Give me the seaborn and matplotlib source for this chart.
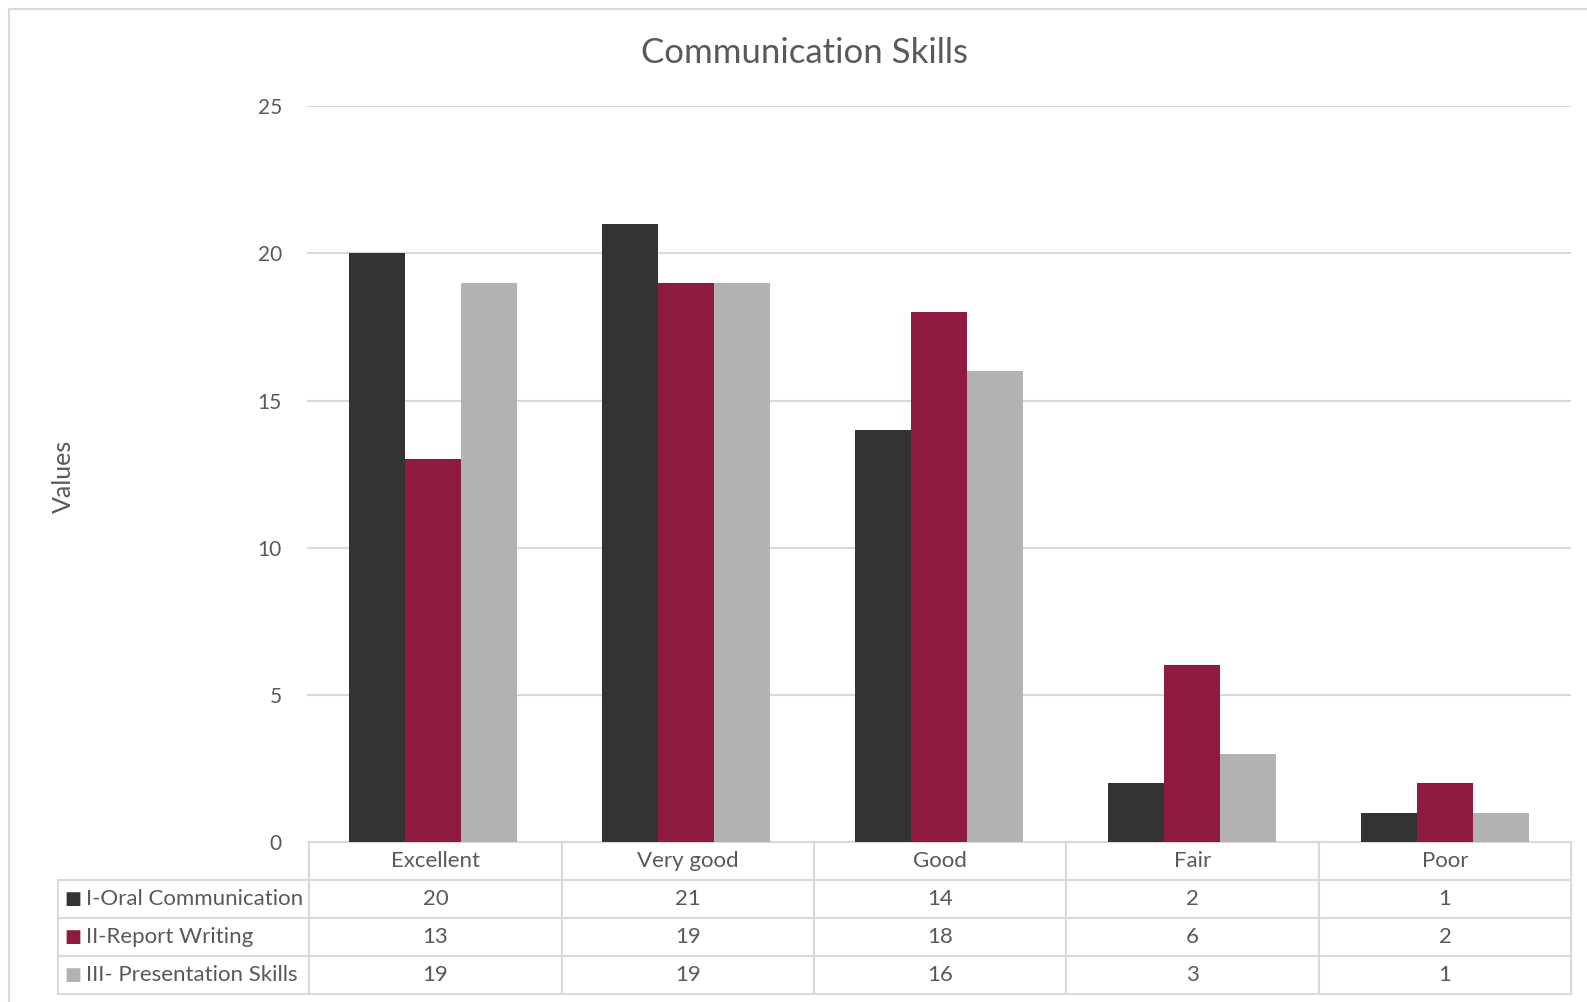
import pandas as pd
import seaborn as sns
import matplotlib.pyplot as plt
from matplotlib.lines import Line2D

# data
ratings = ['Excellent', 'Very good', 'Good', 'Fair', 'Poor']
skills = ['I-Oral Communication', 'II-Report Writing', 'III- Presentation Skills']
oral = [20, 21, 14, 2, 1]
report = [13, 19, 18, 6, 2]
presentation = [19, 19, 16, 3, 1]
colors = ['#333333', '#8E1A3E', '#B2B2B2']

values = [oral, report, presentation]
rows = []
for skill, vals in zip(skills, values):
    for r, v in zip(ratings, vals):
        rows.append({'Rating': r, 'Count': v, 'Skill': skill})
df = pd.DataFrame(rows)

sns.set_style('white')
plt.rcParams['font.family'] = ['Lato', 'DejaVu Sans']
txt = '#595959'
grid = '#D9D9D9'

fig = plt.figure(figsize=(15.87, 10.02), dpi=100)
ax = fig.add_axes([0.1934, 0.1597, 0.7966, 0.7343])

sns.barplot(data=df, x='Rating', y='Count', hue='Skill', order=ratings,
            hue_order=skills, palette=colors, width=0.664, gap=0,
            saturation=1, legend=False, linewidth=0, ax=ax)

ax.set_ylim(0, 25)
ax.set_yticks([0, 5, 10, 15, 20, 25])
ax.yaxis.grid(True, color=grid, linewidth=1.5)
ax.set_axisbelow(True)
for s in ax.spines.values():
    s.set_visible(False)
ax.tick_params(axis='x', length=0, labelbottom=False)
ax.tick_params(axis='y', length=0, labelsize=15, labelcolor=txt, pad=18)
ax.set_xlabel('')
ax.set_ylabel('')

fig.text(0.507, 0.947, 'Communication Skills', ha='center', va='center',
         fontsize=25, color=txt)
fig.text(0.0397, 0.525, 'Values', ha='center', va='center', rotation=90,
         fontsize=18, color=txt)

# data table below the plot
cell_text = [[''] + ratings]
for skill, vals in zip(skills, values):
    cell_text.append(['    ' + skill] + [str(v) for v in vals])

tb_left, tb_h = -0.197, 0.2065
tb = ax.table(cellText=cell_text, colWidths=[249] + [250] * 5,
              bbox=[tb_left, -tb_h, 1 - tb_left, tb_h], cellLoc='center')
tb.auto_set_font_size(False)
for (r, c), cell in tb.get_celld().items():
    cell.set_edgecolor(grid)
    cell.set_linewidth(1.5)
    cell.get_text().set_color(txt)
    cell.get_text().set_fontsize(16)
    if c == 0:
        cell.get_text().set_ha('left')
        cell.PAD = 0.02
    if r == 0 and c == 0:
        cell.set_edgecolor('white')
        cell.visible_edges = ''

row_h = tb_h / 4
for i, col in enumerate(colors):
    ax.text(-0.1855, -row_h * (i + 1.5), '\u25A0', transform=ax.transAxes,
            ha='center', va='center', fontsize=13, color=col,
            family='DejaVu Sans', clip_on=False)

# chart frame
fig.add_artist(Line2D([9 / 1587, 9 / 1587], [0, 1 - 9 / 1002], color=grid,
                      linewidth=1.5, transform=fig.transFigure))
fig.add_artist(Line2D([9 / 1587, 1], [1 - 9 / 1002, 1 - 9 / 1002], color=grid,
                      linewidth=1.5, transform=fig.transFigure))

fig.savefig('out.png', dpi=100)
